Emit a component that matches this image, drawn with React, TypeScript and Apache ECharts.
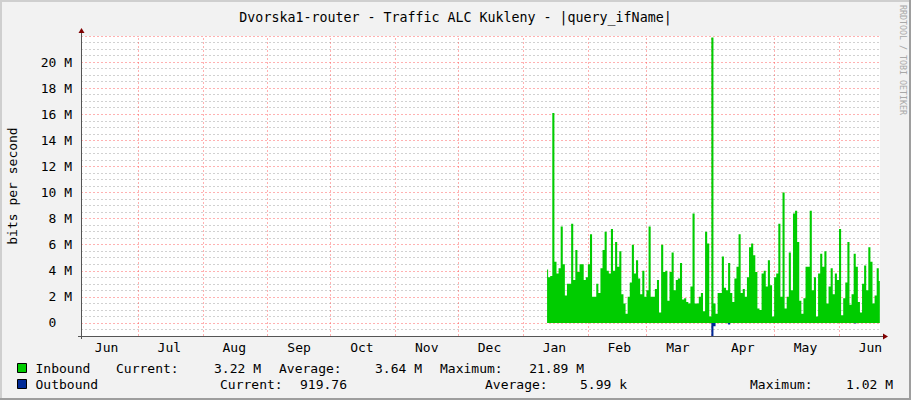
import React, { useEffect, useRef } from 'react';
import * as echarts from 'echarts';

const TITLE = 'Dvorska1-router - Traffic ALC Kukleny - |query_ifName|';
const Y_NAME = 'bits per second';
const WATERMARK = 'RRDTOOL / TOBI OETIKER';
const MONTHS = ['Jan', 'Feb', 'Mar', 'Apr', 'May', 'Jun', 'Jul', 'Aug', 'Sep', 'Oct', 'Nov', 'Dec'];

// month boundaries (major vertical grid) and month label positions (mid-month)
const monthStarts = ['2024-07-01', '2024-08-01', '2024-09-01', '2024-10-01', '2024-11-01', '2024-12-01',
  '2025-01-01', '2025-02-01', '2025-03-01', '2025-04-01', '2025-05-01', '2025-06-01'];
const monthLabelDates = ['2024-06-16', '2024-07-16', '2024-08-16', '2024-09-16', '2024-10-16', '2024-11-16',
  '2024-12-16', '2025-01-16', '2025-02-16', '2025-03-16', '2025-04-16', '2025-05-16', '2025-06-16'];
const X_START = '2024-06-03T19:00:00Z';
const X_END = '2025-06-20T14:00:00Z';

// daily samples starting at this moment
const SERIES_START = '2025-01-12T12:00:00Z';

// Inbound, Mbit/s, one value per day
const inbound = [
  4.1, 3.5, 3.6, 16.1, 4.7, 3.8, 4.2, 7.4, 4.5, 2.1,
  3.0, 3.0, 7.6, 3.3, 5.6, 3.9, 4.5, 4.5, 3.3, 3.5,
  4.5, 6.8, 2.0, 2.0, 3.0, 2.3, 4.2, 5.6, 7.0, 4.0,
  3.8, 7.2, 4.0, 6.2, 4.3, 5.5, 2.2, 1.5, 0.7, 2.0,
  3.1, 6.0, 3.8, 4.8, 3.4, 2.2, 4.0, 2.0, 2.5, 7.4,
  2.0, 2.0, 2.6, 3.3, 0.8, 6.0, 3.9, 4.0, 1.7, 3.9,
  5.4, 2.5, 3.3, 3.4, 4.6, 1.8, 1.9, 1.6, 1.5, 2.8,
  8.4, 1.5, 1.5, 2.0, 2.3, 0.9, 7.0, 6.1, 0.5, 21.89,
  1.5, 0.7, 2.3, 2.3, 5.1, 2.7, 2.5, 4.6, 2.3, 1.6,
  3.4, 4.3, 6.8, 2.3, 2.6, 2.0, 3.5, 5.8, 6.1, 5.2,
  3.9, 1.1, 1.0, 3.8, 4.0, 2.8, 4.8, 2.9, 0.5, 3.5,
  3.8, 7.6, 2.0, 10.0, 1.1, 2.0, 5.4, 2.5, 8.4, 8.6,
  6.2, 1.7, 0.7, 1.9, 4.3, 4.3, 8.6, 2.5, 3.5, 0.5,
  3.8, 5.3, 4.3, 5.5, 1.5, 2.8, 4.2, 2.2, 3.8, 3.3,
  7.2, 0.6, 1.9, 3.1, 6.2, 1.4, 2.2, 5.3, 4.3, 1.6,
  0.8, 3.0, 4.4, 2.5, 5.8, 4.7, 1.5, 2.1, 4.2, 3.22,
];

// Outbound, Mbit/s, one value per day (drawn below zero)
const outbound = [
  0.001, 0.001, 0.002, 0.001, 0.001, 0.001, 0.002, 0.001, 0.001, 0.001,
  0.001, 0.002, 0.001, 0.001, 0.001, 0.001, 0.002, 0.001, 0.001, 0.001,
  0.001, 0.001, 0.002, 0.001, 0.001, 0.001, 0.001, 0.002, 0.001, 0.001,
  0.001, 0.001, 0.001, 0.002, 0.001, 0.001, 0.001, 0.001, 0.001, 0.002,
  0.001, 0.001, 0.001, 0.001, 0.002, 0.001, 0.001, 0.001, 0.001, 0.001,
  0.002, 0.001, 0.001, 0.001, 0.001, 0.001, 0.002, 0.001, 0.001, 0.001,
  0.001, 0.001, 0.001, 0.002, 0.001, 0.001, 0.001, 0.001, 0.001, 0.001,
  0.002, 0.001, 0.001, 0.001, 0.001, 0.001, 0.001, 0.002, 0.001, 1.02,
  0.25, 0.001, 0.001, 0.002, 0.001, 0.001, 0.03, 0.12, 0.01, 0.001,
  0.001, 0.002, 0.001, 0.001, 0.001, 0.001, 0.001, 0.002, 0.001, 0.001,
  0.001, 0.001, 0.002, 0.001, 0.001, 0.001, 0.001, 0.001, 0.002, 0.001,
  0.001, 0.001, 0.001, 0.001, 0.002, 0.001, 0.001, 0.001, 0.001, 0.001,
  0.002, 0.001, 0.001, 0.001, 0.001, 0.001, 0.002, 0.001, 0.001, 0.001,
  0.001, 0.001, 0.001, 0.002, 0.001, 0.001, 0.001, 0.001, 0.001, 0.002,
  0.001, 0.001, 0.001, 0.001, 0.001, 0.002, 0.001, 0.05, 0.001, 0.001,
  0.001, 0.002, 0.001, 0.001, 0.001, 0.001, 0.002, 0.001, 0.001, 0.00092,
];

const legendNames = ['Inbound', 'Outbound'];
const inStats = [['Current:', '3.22 M'], ['Average:', '3.64 M'], ['Maximum:', '21.89 M']];
const outStats = [['Current:', '919.76'], ['Average:', '5.99 k'], ['Maximum:', '1.02 M']];

const GREEN = '#00CC00';
const BLUE = '#002A97';
const BACK = '#f2f2f2';
const FONT = 'DejaVu Sans Mono';
const ARROW = '#7f0000';
const AXIS = '#555555';

// layout
const W = 911;
const H = 400;
const G_LEFT = 81;
const G_RIGHT = 880;
const G_TOP = 36;
const G_BOTTOM = 336;
const ROW1 = 368;
const ROW2 = 384;
const inCols = [[116, 261], [279, 422], [440, 584]];
const outCols = [[220, 347], [485, 627], [750, 893]];

const DAY = 86400000;

function buildOption() {
  const start = Date.parse(SERIES_START);
  const inData = inbound.map((v, i) => [start + i * DAY, v * 1e6]);
  const outData = outbound.map((v, i) => [start + i * DAY, -v * 1e6]);
  const minor = 'rgba(140,140,140,0.4)';
  const major = 'rgba(255,60,60,0.4)';

  const statTexts: any[] = [];
  const addStats = (stats: string[][], cols: number[][], y: number) => {
    stats.forEach((s, k) => {
      statTexts.push({
        type: 'text', x: cols[k][0], y, silent: true,
        style: { text: s[0], fontFamily: FONT, fontSize: 13, fill: '#000', textAlign: 'left', textVerticalAlign: 'middle' },
      });
      statTexts.push({
        type: 'text', x: cols[k][1], y, silent: true,
        style: { text: s[1], fontFamily: FONT, fontSize: 13, fill: '#000', textAlign: 'right', textVerticalAlign: 'middle' },
      });
    });
  };
  addStats(inStats, inCols, ROW1);
  addStats(outStats, outCols, ROW2);

  return {
    animation: false,
    backgroundColor: BACK,
    textStyle: { fontFamily: FONT },
    title: {
      text: TITLE,
      left: 'center',
      top: 6,
      textStyle: { fontFamily: FONT, fontSize: 13.3, fontWeight: 'normal', color: '#000' },
    },
    legend: {
      orient: 'vertical',
      left: 17,
      top: ROW1 - 8,
      padding: 0,
      itemWidth: 9,
      itemHeight: 9,
      itemGap: 0,
      icon: 'rect',
      selectedMode: false,
      textStyle: { fontFamily: FONT, fontSize: 13, color: '#000', lineHeight: 16, padding: [0, 0, 0, 4] },
      data: [
        { name: legendNames[0], itemStyle: { color: GREEN, borderColor: '#000', borderWidth: 1 } },
        { name: legendNames[1], itemStyle: { color: BLUE, borderColor: '#000', borderWidth: 1 } },
      ],
    },
    grid: {
      left: G_LEFT,
      right: W - G_RIGHT,
      top: G_TOP,
      bottom: H - G_BOTTOM,
      show: true,
      backgroundColor: '#ffffff',
      borderWidth: 0,
      containLabel: false,
    },
    xAxis: {
      type: 'value',
      min: Date.parse(X_START),
      max: Date.parse(X_END),
      axisLine: { show: false },
      axisTick: { show: false },
      splitLine: { show: false },
      axisLabel: {
        customValues: monthLabelDates.map((d) => Date.parse(d)),
        formatter: (v: number) => MONTHS[new Date(v).getUTCMonth()],
        fontFamily: FONT,
        fontSize: 13,
        color: '#000',
        margin: 5,
      },
    },
    yAxis: {
      type: 'value',
      min: -1e6,
      max: 22e6,
      interval: 0.5e6,
      axisLine: { show: false },
      axisTick: { show: false },
      splitLine: {
        show: true,
        lineStyle: { color: [minor, minor, major, minor], type: [2, 2], width: 1 },
      },
      axisLabel: {
        fontFamily: FONT,
        fontSize: 13,
        color: '#000',
        margin: 9,
        formatter: (v: number) => {
          if (v < 0 || v > 21e6 || Math.round(v) % 2000000 !== 0) return '';
          if (v === 0) return '0\u00a0\u00a0';
          return `${Math.round(v / 1e6)} M`;
        },
      },
    },
    series: [
      {
        name: legendNames[1],
        type: 'line',
        step: 'middle',
        data: outData,
        showSymbol: false,
        symbol: 'none',
        lineStyle: { width: 0, color: BLUE },
        itemStyle: { color: BLUE },
        areaStyle: { color: BLUE, opacity: 1 },
        z: 2,
      },
      {
        name: legendNames[0],
        type: 'line',
        step: 'middle',
        data: inData,
        showSymbol: false,
        symbol: 'none',
        lineStyle: { width: 0, color: GREEN },
        itemStyle: { color: GREEN },
        areaStyle: { color: GREEN, opacity: 1 },
        z: 3,
        markLine: {
          silent: true,
          symbol: ['none', 'none'],
          label: { show: false },
          lineStyle: { color: major, type: [2, 2], width: 1 },
          data: monthStarts.map((d) => ({ xAxis: Date.parse(d) })),
          z: 1,
        },
      },
    ],
    graphic: [
      { type: 'rect', shape: { x: 0, y: 0, width: W, height: 2 }, style: { fill: '#cfcfcf' }, silent: true },
      { type: 'rect', shape: { x: 0, y: 0, width: 2, height: H }, style: { fill: '#cfcfcf' }, silent: true },
      { type: 'rect', shape: { x: 0, y: H - 2, width: W, height: 2 }, style: { fill: '#9e9e9e' }, silent: true },
      { type: 'rect', shape: { x: W - 2, y: 0, width: 2, height: H }, style: { fill: '#9e9e9e' }, silent: true },
      {
        type: 'text', x: 903, y: 60, rotation: -Math.PI / 2, silent: true,
        style: { text: WATERMARK, fontFamily: FONT, fontSize: 8.3, fill: '#a8a8a8', textAlign: 'center', textVerticalAlign: 'middle' },
      },
      {
        type: 'text', x: 12, y: (G_TOP + G_BOTTOM) / 2, rotation: Math.PI / 2, silent: true,
        style: { text: Y_NAME, fontFamily: FONT, fontSize: 13, fill: '#000', textAlign: 'center', textVerticalAlign: 'middle' },
      },
      // axes
      { type: 'line', shape: { x1: G_LEFT + 0.5, y1: G_BOTTOM + 3, x2: G_LEFT + 0.5, y2: G_TOP - 4 }, style: { stroke: AXIS, lineWidth: 1 }, silent: true, z: 10 },
      { type: 'line', shape: { x1: G_LEFT - 3, y1: G_BOTTOM + 0.5, x2: G_RIGHT + 4, y2: G_BOTTOM + 0.5 }, style: { stroke: AXIS, lineWidth: 1 }, silent: true, z: 10 },
      { type: 'polygon', shape: { points: [[G_LEFT + 0.5, G_TOP - 8], [G_LEFT - 2.5, G_TOP - 3], [G_LEFT + 3.5, G_TOP - 3]] }, style: { fill: ARROW }, silent: true, z: 11 },
      { type: 'polygon', shape: { points: [[G_RIGHT + 8, G_BOTTOM + 0.5], [G_RIGHT + 3, G_BOTTOM - 2.5], [G_RIGHT + 3, G_BOTTOM + 3.5]] }, style: { fill: ARROW }, silent: true, z: 11 },
      ...statTexts,
    ],
  };
}

export default function App() {
  const ref = useRef<HTMLDivElement>(null);
  useEffect(() => {
    if (!ref.current) return;
    const chart = echarts.init(ref.current, null, { renderer: 'svg' });
    chart.setOption(buildOption() as any);
    return () => chart.dispose();
  }, []);
  return <div ref={ref} style={{ position: 'fixed', left: 0, top: 0, width: W, height: H }} />;
}
